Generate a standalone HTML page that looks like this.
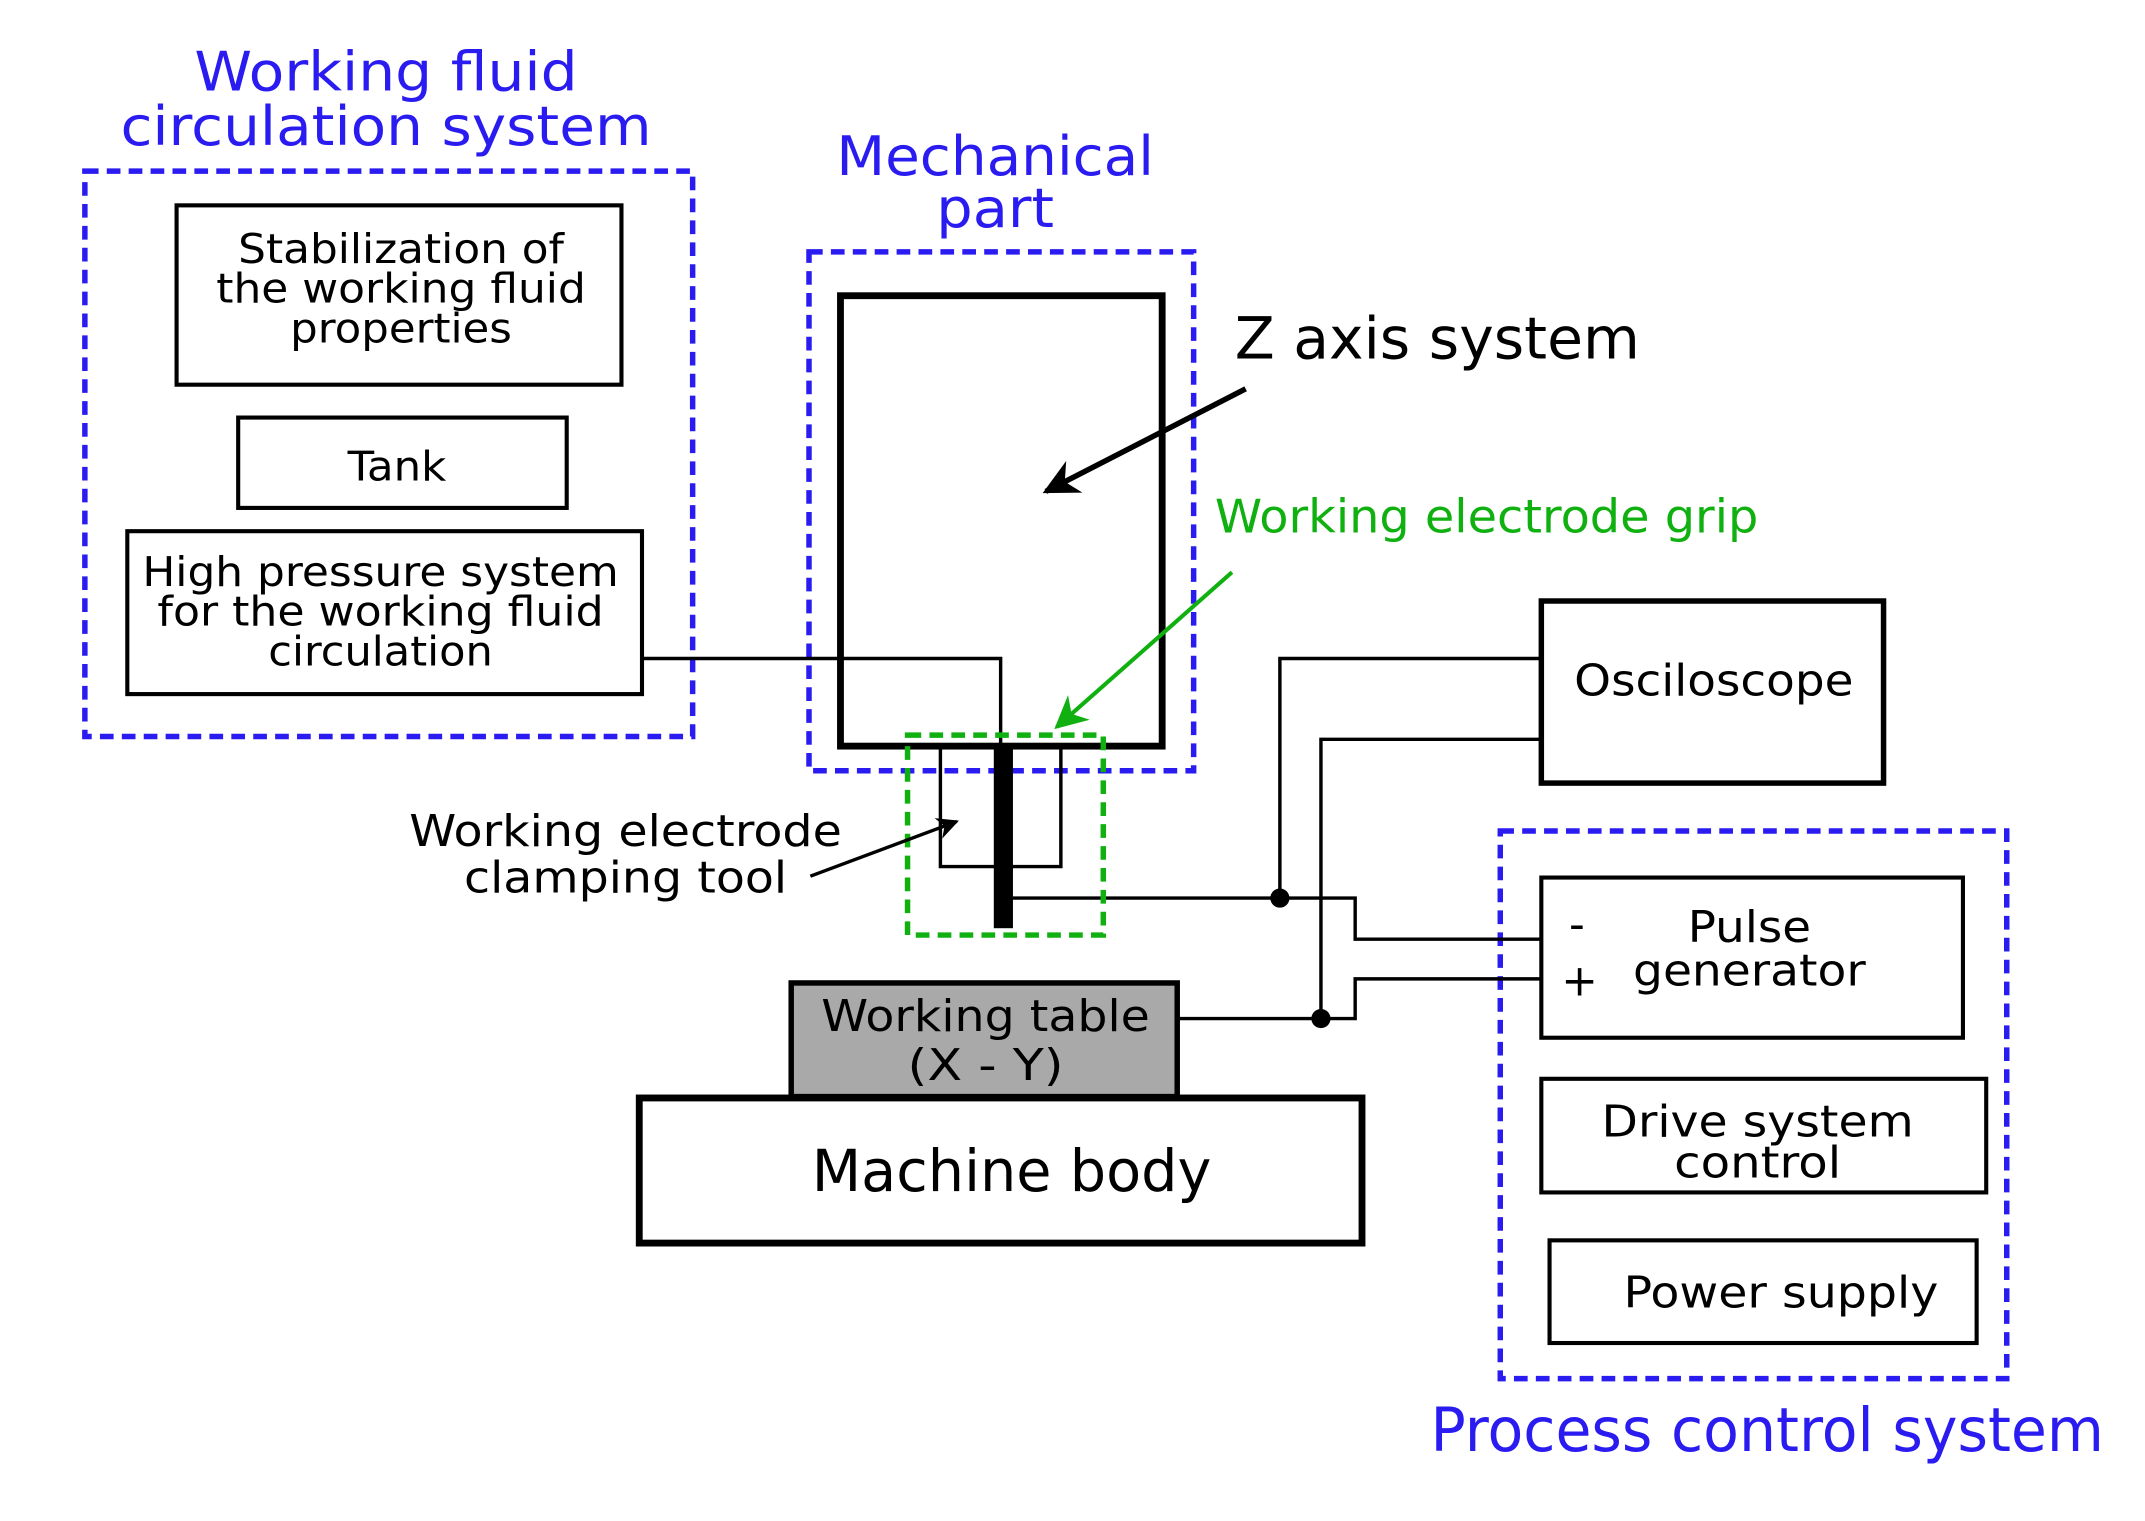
<!DOCTYPE html>
<html><head><meta charset="utf-8"><style>
html,body{margin:0;padding:0;background:#fff;}
svg{display:block;}
text{font-family:"DejaVu Sans","Liberation Sans",sans-serif;}
</style></head><body>
<svg width="2145" height="1521" viewBox="0 0 1567 1111" preserveAspectRatio="none" xmlns="http://www.w3.org/2000/svg">
<defs>
<marker id="abig" viewBox="0 0 10 10" refX="9" refY="5" markerWidth="30" markerHeight="26" orient="auto" markerUnits="userSpaceOnUse"><path d="M0,0 L10,5 L0,10 L3,5 z" fill="#000"/></marker>
<marker id="ag" viewBox="0 0 10 10" refX="9" refY="5" markerWidth="28" markerHeight="24" orient="auto" markerUnits="userSpaceOnUse"><path d="M0,0 L10,5 L0,10 L3,5 z" fill="#10b010"/></marker>
<marker id="as" viewBox="0 0 10 10" refX="9" refY="5" markerWidth="18" markerHeight="16" orient="auto" markerUnits="userSpaceOnUse"><path d="M0,0 L10,5 L0,10 L3,5 z" fill="#000"/></marker>
</defs>
<g fill="none" stroke-linejoin="miter">
<rect x="62" y="125" width="444" height="413" stroke="#2a1cf0" stroke-width="4" stroke-dasharray="10,6"/>
<rect x="591" y="184" width="281" height="379" stroke="#2a1cf0" stroke-width="4" stroke-dasharray="10,6"/>
<rect x="1096" y="607" width="370" height="400" stroke="#2a1cf0" stroke-width="4" stroke-dasharray="10,6"/>
<rect x="129" y="150" width="325" height="131" stroke="#000" stroke-width="3"/>
<rect x="174" y="305" width="240" height="66" stroke="#000" stroke-width="3"/>
<rect x="93" y="388" width="376" height="119" stroke="#000" stroke-width="3"/>
<rect x="614" y="216" width="235" height="329" stroke="#000" stroke-width="5"/>
<polyline points="469,481 731,481 731,545" stroke="#000" stroke-width="2.5"/>
<polyline points="687,545 687,633 775,633 775,545" stroke="#000" stroke-width="2.5"/>
<rect x="726" y="545" width="14" height="133" fill="#000" stroke="none"/>
<polyline points="740,656 990,656 990,686 1126,686" stroke="#000" stroke-width="2.5"/>
<polyline points="935,656 935,481 1126,481" stroke="#000" stroke-width="2.5"/>
<polyline points="860,744 990,744 990,715 1126,715" stroke="#000" stroke-width="2.5"/>
<polyline points="965,744 965,540 1126,540" stroke="#000" stroke-width="2.5"/>
<circle cx="935" cy="656" r="7" fill="#000" stroke="none"/>
<circle cx="965" cy="744" r="7" fill="#000" stroke="none"/>
<rect x="663" y="537" width="143" height="146" stroke="#10b010" stroke-width="4" stroke-dasharray="10,6"/>
<rect x="1126" y="439" width="250" height="133" stroke="#000" stroke-width="4"/>
<rect x="1126" y="641" width="308" height="117" stroke="#000" stroke-width="3"/>
<rect x="1126" y="788" width="325" height="83" stroke="#000" stroke-width="3"/>
<rect x="1132" y="906" width="312" height="75" stroke="#000" stroke-width="3"/>
<rect x="578" y="718" width="282" height="83" fill="#a9a9a9" stroke="#000" stroke-width="4"/>
<rect x="467" y="802" width="528" height="106" stroke="#000" stroke-width="5"/>
<line x1="910" y1="284" x2="764" y2="359" stroke="#000" stroke-width="4" marker-end="url(#abig)"/>
<line x1="900" y1="418" x2="772" y2="531" stroke="#10b010" stroke-width="3" marker-end="url(#ag)"/>
<line x1="592" y1="640" x2="699" y2="600" stroke="#000" stroke-width="2.5" marker-end="url(#as)"/>
</g>
<g fill="#2a1cf0" font-size="40" text-anchor="middle">
<text x="282" y="66" textLength="280" lengthAdjust="spacingAndGlyphs">Working fluid</text>
<text x="282" y="106" textLength="388" lengthAdjust="spacingAndGlyphs">circulation system</text>
<text x="727" y="128" textLength="232" lengthAdjust="spacingAndGlyphs">Mechanical</text>
<text x="727" y="166" textLength="86" lengthAdjust="spacingAndGlyphs">part</text>
<text x="1291" y="1060" font-size="44" textLength="492" lengthAdjust="spacingAndGlyphs">Process control system</text>
</g>
<text x="1086" y="389" font-size="34" fill="#10b010" text-anchor="middle" textLength="397" lengthAdjust="spacingAndGlyphs">Working electrode grip</text>
<g fill="#000" font-size="30" text-anchor="middle">
<text x="293" y="192" textLength="238" lengthAdjust="spacingAndGlyphs">Stabilization of</text>
<text x="293" y="221" textLength="270" lengthAdjust="spacingAndGlyphs">the working fluid</text>
<text x="293" y="250" textLength="162" lengthAdjust="spacingAndGlyphs">properties</text>
<text x="290" y="351" textLength="72" lengthAdjust="spacingAndGlyphs">Tank</text>
<text x="278" y="428" textLength="348" lengthAdjust="spacingAndGlyphs">High pressure system</text>
<text x="278" y="457" textLength="326" lengthAdjust="spacingAndGlyphs">for the working fluid</text>
<text x="278" y="486" textLength="164" lengthAdjust="spacingAndGlyphs">circulation</text>
<text x="457" y="618" font-size="32" textLength="316" lengthAdjust="spacingAndGlyphs">Working electrode</text>
<text x="457" y="652" font-size="32" textLength="236" lengthAdjust="spacingAndGlyphs">clamping tool</text>
<text x="1050" y="262" font-size="42" textLength="296" lengthAdjust="spacingAndGlyphs">Z axis system</text>
<text x="1252" y="508" font-size="32" textLength="204" lengthAdjust="spacingAndGlyphs">Osciloscope</text>
<text x="1152" y="686" font-size="32">-</text>
<text x="1154" y="727" font-size="32">+</text>
<text x="1278" y="688" font-size="32" textLength="90" lengthAdjust="spacingAndGlyphs">Pulse</text>
<text x="1278" y="720" font-size="32" textLength="170" lengthAdjust="spacingAndGlyphs">generator</text>
<text x="1284" y="830" font-size="32" textLength="228" lengthAdjust="spacingAndGlyphs">Drive system</text>
<text x="1284" y="860" font-size="32" textLength="122" lengthAdjust="spacingAndGlyphs">control</text>
<text x="1301" y="955" font-size="32" textLength="230" lengthAdjust="spacingAndGlyphs">Power supply</text>
<text x="720" y="753" font-size="32" textLength="240" lengthAdjust="spacingAndGlyphs">Working table</text>
<text x="720" y="789" font-size="32" textLength="114" lengthAdjust="spacingAndGlyphs">(X - Y)</text>
<text x="739" y="870" font-size="42" textLength="292" lengthAdjust="spacingAndGlyphs">Machine body</text>
</g>
</svg>
</body></html>
